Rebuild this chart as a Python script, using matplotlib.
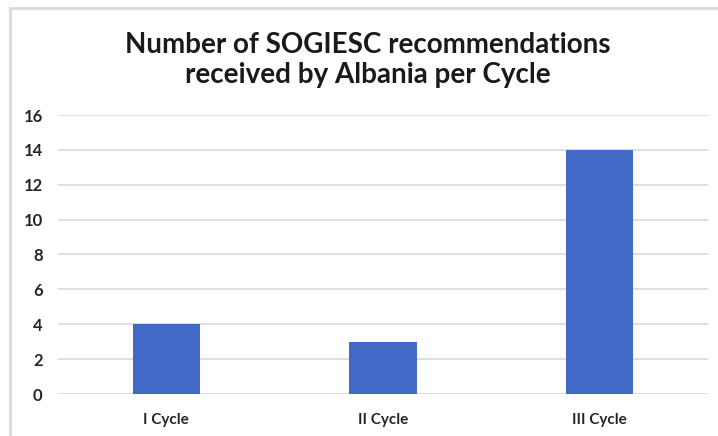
import matplotlib
matplotlib.use("Agg")
import matplotlib.pyplot as plt
from matplotlib.patches import Rectangle

categories = ["I Cycle", "II Cycle", "III Cycle"]
values = [4, 3, 14]
yticks = [0, 2, 4, 6, 8, 10, 12, 14, 16]

plt.rcParams['font.family'] = ['Lato', 'DejaVu Sans']

W, H = 718, 436
fig = plt.figure(figsize=(W/100, H/100), dpi=100)
ax = fig.add_axes([58/W, 1-394/H, 650/W, (394-115)/H])

x = list(range(len(categories)))
ax.bar(x, values, width=0.31, color="#4169c6", zorder=3)
ax.set_xlim(-0.5, 2.5)
ax.set_ylim(0, 16)
ax.set_yticks(yticks)
ax.set_xticks(x)
ax.set_xticklabels(categories, fontsize=11, fontweight='bold', color='#262626')
ax.set_yticklabels([str(v) for v in yticks], fontsize=12, fontweight='bold', color='#262626')
ax.grid(axis='y', color='#d9d9d9', linewidth=1.2, zorder=0)
for s in ax.spines.values():
    s.set_visible(False)
ax.tick_params(axis='both', length=0)
ax.tick_params(axis='y', pad=11)
ax.tick_params(axis='x', pad=14)

fig.text(368/W, 1-60/H, "Number of SOGIESC recommendations\nreceived by Albania per Cycle",
         ha='center', va='center', fontsize=20, fontweight='bold', color='#1a1a1a',
         linespacing=1.17)

fig.patches.append(Rectangle((10/W, -0.05), 1.2, 1 - 8/H + 0.05, transform=fig.transFigure,
                             fill=False, edgecolor='#d9d9d9', linewidth=2))

fig.savefig("out.png", dpi=100)
